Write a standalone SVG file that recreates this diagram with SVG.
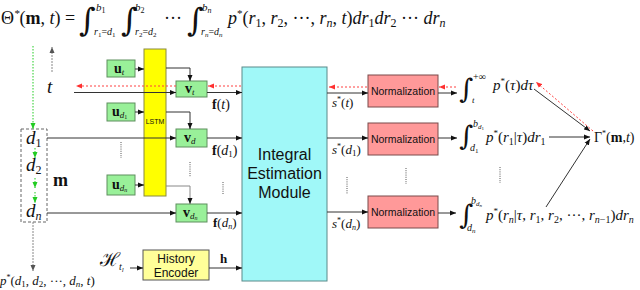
<svg xmlns="http://www.w3.org/2000/svg" width="640" height="290" viewBox="0 0 640 290">
<defs>
<marker id="ab" markerUnits="userSpaceOnUse" markerWidth="6" markerHeight="6" refX="6" refY="3" orient="auto"><path d="M0,0.5 L6,3 L0,5.5 z" fill="#111"/></marker>
<marker id="ar" markerUnits="userSpaceOnUse" markerWidth="6" markerHeight="6" refX="6" refY="3" orient="auto"><path d="M0,0.5 L6,3 L0,5.5 z" fill="#ff3030"/></marker>
<marker id="ag" markerUnits="userSpaceOnUse" markerWidth="6" markerHeight="6" refX="6" refY="3" orient="auto"><path d="M0,0.5 L6,3 L0,5.5 z" fill="#22cc22"/></marker>
<marker id="ay" markerUnits="userSpaceOnUse" markerWidth="6" markerHeight="6" refX="6" refY="3" orient="auto"><path d="M0,0.5 L6,3 L0,5.5 z" fill="#555"/></marker>
</defs>
<style>
.m{font-family:"Liberation Serif","DejaVu Serif",serif;font-style:italic;fill:#111}
.r{font-style:normal}
.b{font-weight:bold;font-style:normal}
.int{font-family:"DejaVu Serif","Liberation Serif",serif;font-style:normal;fill:#111}
.sans{font-family:"Liberation Sans",Arial,sans-serif;fill:#111}
.green{fill:#99f099;stroke:#5f8f5f;stroke-width:1}
.norm{fill:#ff9999;stroke:#7a4a4a;stroke-width:1}
.ln{stroke:#333;stroke-width:1;fill:none}
.lg{stroke:#888;stroke-width:1;fill:none}
.red{stroke:#ff4040;stroke-width:1;stroke-dasharray:2 2;fill:none}
.grn{stroke:#22cc22;stroke-width:1;stroke-dasharray:1.5 1.5;fill:none}
.dots{stroke:#555;stroke-width:1;stroke-dasharray:1 1.2;fill:none}
</style>

<!-- top formula -->
<g id="formula">
<text class="m" x="1" y="24" font-size="18"><tspan class="r">Θ</tspan><tspan font-size="11" dy="-7">*</tspan><tspan dy="7" class="r">(</tspan><tspan class="b">m</tspan><tspan class="r">, </tspan>t<tspan class="r">) =</tspan></text>
<text class="int" x="79" y="31" font-size="32">∫</text>
<text class="m" x="96" y="11" font-size="11">b<tspan font-size="8" class="r" dy="2">1</tspan></text>
<text class="m" x="94" y="35" font-size="10">r<tspan font-size="7" class="r" dy="2">1</tspan><tspan class="r" dy="-2">=</tspan>d<tspan font-size="7" class="r" dy="2">1</tspan></text>
<text class="int" x="121" y="31" font-size="32">∫</text>
<text class="m" x="135" y="11" font-size="11">b<tspan font-size="8" class="r" dy="2">2</tspan></text>
<text class="m" x="135" y="35" font-size="10">r<tspan font-size="7" class="r" dy="2">2</tspan><tspan class="r" dy="-2">=</tspan>d<tspan font-size="7" class="r" dy="2">2</tspan></text>
<text class="m r" x="164" y="24" font-size="18">···</text>
<text class="int" x="187" y="31" font-size="32">∫</text>
<text class="m" x="202" y="11" font-size="11">b<tspan font-size="8" dy="2">n</tspan></text>
<text class="m" x="201" y="35" font-size="10">r<tspan font-size="7" dy="2">n</tspan><tspan class="r" dy="-2">=</tspan>d<tspan font-size="7" dy="2">n</tspan></text>
<text class="m" x="228" y="24" font-size="18">p<tspan font-size="11" class="r" dy="-7">*</tspan><tspan class="r" dy="7">(</tspan>r<tspan font-size="12" class="r" dy="3">1</tspan><tspan class="r" dy="-3">, </tspan>r<tspan font-size="12" class="r" dy="3">2</tspan><tspan class="r" dy="-3">, ···, </tspan>r<tspan font-size="12" dy="3">n</tspan><tspan class="r" dy="-3">, </tspan>t<tspan class="r">)</tspan>dr<tspan font-size="12" class="r" dy="3">1</tspan><tspan dy="-3">dr</tspan><tspan font-size="12" class="r" dy="3">2</tspan><tspan class="r" dy="-3"> ··· </tspan>dr<tspan font-size="12" dy="3">n</tspan></text>
</g>

<!-- left labels -->
<g id="inputs">
<text class="m" x="47" y="93" font-size="19">t</text>
<rect x="21" y="129" width="26" height="93" fill="none" stroke="#666" stroke-dasharray="3 2"/>
<text class="m" x="26" y="144" font-size="19">d<tspan font-size="12" class="r" dy="3">1</tspan></text>
<text class="m" x="26" y="171" font-size="19">d<tspan font-size="12" class="r" dy="3">2</tspan></text>
<text class="m" x="26" y="217" font-size="19">d<tspan font-size="12" dy="3">n</tspan></text>
<text class="m b" x="53" y="186" font-size="18">m</text>
<text class="m" x="0" y="285" font-size="13">p<tspan font-size="8" class="r" dy="-5">*</tspan><tspan class="r" dy="5">(</tspan>d<tspan font-size="9" class="r" dy="2">1</tspan><tspan class="r" dy="-2">, </tspan>d<tspan font-size="9" class="r" dy="2">2</tspan><tspan class="r" dy="-2">, ···, </tspan>d<tspan font-size="9" dy="2">n</tspan><tspan class="r" dy="-2">, </tspan>t<tspan class="r">)</tspan></text>
<text class="int" x="100" y="266" font-size="19">ℋ</text>
<text class="m" x="119" y="270" font-size="10">t<tspan font-size="7" dy="2">l</tspan></text>
</g>

<!-- u boxes -->
<g id="u_t"><rect class="green" x="107" y="60" width="28" height="17"/><text class="m" x="114" y="73" font-size="14"><tspan class="b">u</tspan><tspan font-size="9" dy="2">t</tspan></text></g>
<g id="u_d1"><rect class="green" x="107" y="103" width="28" height="18"/><text class="m" x="112" y="116" font-size="14"><tspan class="b">u</tspan><tspan font-size="9" dy="2">d</tspan><tspan font-size="6" class="r" dy="1">1</tspan></text></g>
<g id="u_dn"><rect class="green" x="107" y="175" width="28" height="20"/><text class="m" x="112" y="189" font-size="14"><tspan class="b">u</tspan><tspan font-size="9" dy="2">d</tspan><tspan font-size="6" dy="1">n</tspan></text></g>

<!-- LSTM -->
<g id="lstm"><rect x="144" y="49" width="22" height="147" fill="#ffff00" stroke="#8a8a40" stroke-width="1"/><text class="sans" x="155" y="124" font-size="7" text-anchor="middle" fill="#333">LSTM</text></g>

<!-- v boxes -->
<g id="v_t"><rect class="green" x="176" y="81" width="31" height="16"/><text class="m" x="185" y="93" font-size="14"><tspan class="b">v</tspan><tspan font-size="9" dy="2">t</tspan></text></g>
<g id="v_d"><rect class="green" x="176" y="129" width="31" height="18"/><text class="m" x="184" y="142" font-size="14"><tspan class="b">v</tspan><tspan font-size="9" dy="2">d</tspan></text></g>
<g id="v_dn"><rect class="green" x="176" y="204" width="31" height="18"/><text class="m" x="183" y="217" font-size="14"><tspan class="b">v</tspan><tspan font-size="9" dy="2">d</tspan><tspan font-size="6" dy="1">n</tspan></text></g>

<!-- history encoder -->
<g id="history"><rect x="143" y="250" width="66" height="30" fill="#ffff99" stroke="#555" stroke-width="1"/><text class="sans" x="176" y="263" font-size="12" text-anchor="middle">History</text><text class="sans" x="176" y="277" font-size="12" text-anchor="middle">Encoder</text></g>

<!-- integral module -->
<g id="module"><rect x="242" y="67" width="85" height="214" fill="#a0f8f8" stroke="#5a8a8a" stroke-width="1"/><text class="sans" x="284.5" y="160" font-size="16" text-anchor="middle">Integral</text><text class="sans" x="284.5" y="179" font-size="16" text-anchor="middle">Estimation</text><text class="sans" x="284.5" y="198" font-size="16" text-anchor="middle">Module</text></g>

<!-- normalization -->
<g id="norm_t"><rect class="norm" x="368" y="75" width="70" height="32"/><text class="sans" x="403" y="95" font-size="10.5" text-anchor="middle">Normalization</text></g>
<g id="norm_d1"><rect class="norm" x="368" y="123" width="70" height="32"/><text class="sans" x="403" y="143" font-size="10.5" text-anchor="middle">Normalization</text></g>
<g id="norm_dn"><rect class="norm" x="368" y="196" width="70" height="32"/><text class="sans" x="403" y="216" font-size="10.5" text-anchor="middle">Normalization</text></g>

<!-- labels on links -->
<g id="labels">
<text class="m" x="212" y="109" font-size="14"><tspan class="b">f</tspan><tspan class="r">(</tspan>t<tspan class="r">)</tspan></text>
<text class="m" x="212" y="155" font-size="14"><tspan class="b">f</tspan><tspan class="r">(</tspan>d<tspan font-size="9" class="r" dy="2">1</tspan><tspan class="r" dy="-2">)</tspan></text>
<text class="m" x="213" y="227" font-size="13"><tspan class="b">f</tspan><tspan class="r">(</tspan>d<tspan font-size="8" dy="2">n</tspan><tspan class="r" dy="-2">)</tspan></text>
<text class="m b" x="220" y="263" font-size="13">h</text>
<text class="m" x="332" y="107" font-size="13">s<tspan font-size="8" class="r" dy="-5">*</tspan><tspan class="r" dy="5">(</tspan>t<tspan class="r">)</tspan></text>
<text class="m" x="332" y="154" font-size="13">s<tspan font-size="8" class="r" dy="-5">*</tspan><tspan class="r" dy="5">(</tspan>d<tspan font-size="9" class="r" dy="2">1</tspan><tspan class="r" dy="-2">)</tspan></text>
<text class="m" x="332" y="228" font-size="13">s<tspan font-size="8" class="r" dy="-5">*</tspan><tspan class="r" dy="5">(</tspan>d<tspan font-size="8" dy="2">n</tspan><tspan class="r" dy="-2">)</tspan></text>
</g>

<!-- right integrals -->
<g id="out_t">
<text class="int" x="459" y="98" font-size="27">∫</text>
<text class="m" x="473" y="80" font-size="10"><tspan class="r">+∞</tspan></text>
<text class="m" x="472" y="103" font-size="9">t</text>
<text class="m" x="493" y="90" font-size="15">p<tspan font-size="9" class="r" dy="-6">*</tspan><tspan class="r" dy="6">(</tspan>τ<tspan class="r">)</tspan>dτ</text>
</g>
<g id="out_d1">
<text class="int" x="459" y="145" font-size="27">∫</text>
<text class="m" x="473" y="127" font-size="10">b<tspan font-size="7" dy="2">d</tspan><tspan font-size="5" class="r" dy="1">1</tspan></text>
<text class="m" x="470" y="151" font-size="10">d<tspan font-size="7" class="r" dy="2">1</tspan></text>
<text class="m" x="486" y="142" font-size="15">p<tspan font-size="9" class="r" dy="-6">*</tspan><tspan class="r" dy="6">(</tspan>r<tspan font-size="10" class="r" dy="3">1</tspan><tspan class="r" dy="-3">|</tspan>τ<tspan class="r">)</tspan>dr<tspan font-size="10" class="r" dy="3">1</tspan></text>
</g>
<g id="out_dn">
<text class="int" x="459" y="224" font-size="27">∫</text>
<text class="m" x="471" y="204" font-size="10">b<tspan font-size="7" dy="2">d</tspan><tspan font-size="5" dy="1">n</tspan></text>
<text class="m" x="467" y="231" font-size="10">d<tspan font-size="7" dy="2">n</tspan></text>
<text class="m" x="486" y="220" font-size="15">p<tspan font-size="9" class="r" dy="-6">*</tspan><tspan class="r" dy="6">(</tspan>r<tspan font-size="10" dy="3">n</tspan><tspan class="r" dy="-3">|</tspan>τ<tspan class="r">, </tspan>r<tspan font-size="10" class="r" dy="3">1</tspan><tspan class="r" dy="-3">, </tspan>r<tspan font-size="10" class="r" dy="3">2</tspan><tspan class="r" dy="-3">, ···, </tspan>r<tspan font-size="10" dy="3">n<tspan class="r">−1</tspan></tspan><tspan class="r" dy="-3">)</tspan>dr<tspan font-size="10" dy="3">n</tspan></text>
</g>
<g id="gamma">
<text class="m" x="594" y="142" font-size="14"><tspan class="r">Γ</tspan><tspan font-size="8" class="r" dy="-6">*</tspan><tspan class="r" dy="6">(</tspan><tspan class="b">m</tspan><tspan class="r">,</tspan>t<tspan class="r">)</tspan></text>
</g>

<!-- connectors -->
<g id="connectors">
<line class="grn" x1="33" y1="46" x2="33" y2="129" marker-end="url(#ag)"/>
<line class="grn" x1="35" y1="148" x2="35" y2="158" marker-end="url(#ag)"/>
<line class="grn" x1="35" y1="178" x2="35" y2="188" marker-end="url(#ag)"/>
<line class="grn" x1="35" y1="192" x2="35" y2="203" marker-end="url(#ag)"/>
<line class="lg" x1="52" y1="72" x2="52" y2="47" marker-end="url(#ay)" stroke-dasharray="2 1"/>
<line class="lg" x1="33" y1="222" x2="33" y2="271" marker-end="url(#ay)" stroke-dasharray="2 1"/>
<line class="ln" x1="135" y1="69" x2="144" y2="69" marker-end="url(#ab)"/>
<line class="ln" x1="135" y1="112" x2="144" y2="112" marker-end="url(#ab)"/>
<line class="ln" x1="135" y1="185" x2="144" y2="185" marker-end="url(#ab)"/>
<polyline class="ln" points="166,68 190,68 190,81" marker-end="url(#ab)"/>
<polyline class="ln" points="166,112 190,112 190,129" marker-end="url(#ab)"/>
<polyline class="lg" points="166,186 190,186 190,204" marker-end="url(#ab)" stroke="#aaa"/>
<line class="ln" x1="74" y1="92.5" x2="176" y2="92.5" marker-end="url(#ab)"/>
<line class="ln" x1="47" y1="138" x2="176" y2="138" marker-end="url(#ab)"/>
<line class="ln" x1="47" y1="213" x2="176" y2="213" marker-end="url(#ab)"/>
<line class="ln" x1="207" y1="92.5" x2="242" y2="92.5" marker-end="url(#ab)"/>
<line class="ln" x1="207" y1="138" x2="242" y2="138" marker-end="url(#ab)"/>
<line class="ln" x1="207" y1="213" x2="242" y2="213" marker-end="url(#ab)"/>
<line class="ln" x1="130" y1="268" x2="143" y2="268" marker-end="url(#ab)"/>
<line class="ln" x1="209" y1="268" x2="242" y2="268" marker-end="url(#ab)"/>
<line class="ln" x1="327" y1="93" x2="368" y2="93" marker-end="url(#ab)"/>
<line class="ln" x1="327" y1="138" x2="368" y2="138" marker-end="url(#ab)"/>
<line class="ln" x1="327" y1="212" x2="368" y2="212" marker-end="url(#ab)"/>
<line class="ln" x1="438" y1="93" x2="457" y2="93" marker-end="url(#ab)"/>
<line class="ln" x1="438" y1="138" x2="457" y2="138" marker-end="url(#ab)"/>
<line class="ln" x1="438" y1="213" x2="456" y2="213" marker-end="url(#ab)"/>
<line class="ln" x1="534" y1="89" x2="590" y2="131" marker-end="url(#ab)"/>
<line class="ln" x1="549" y1="137" x2="590" y2="137" marker-end="url(#ab)"/>
<line class="ln" x1="546" y1="207" x2="590" y2="139" marker-end="url(#ab)"/>
<line class="red" x1="593" y1="131" x2="536" y2="82" marker-end="url(#ar)"/>
<line class="red" x1="456" y1="87" x2="439" y2="87" marker-end="url(#ar)"/>
<line class="red" x1="367" y1="87" x2="329" y2="87" marker-end="url(#ar)"/>
<line class="red" x1="241" y1="86" x2="208" y2="86" marker-end="url(#ar)"/>
<line class="red" x1="176" y1="86" x2="76" y2="86" marker-end="url(#ar)"/>
<line class="dots" x1="121" y1="142" x2="121" y2="158"/>
<line class="dots" x1="190" y1="162" x2="190" y2="177"/>
<line class="dots" x1="223" y1="182" x2="223" y2="195"/>
<line class="dots" x1="347" y1="177" x2="347" y2="194"/>
<line class="dots" x1="406" y1="168" x2="406" y2="184"/>
<line class="dots" x1="500" y1="167" x2="500" y2="183"/>
</g>
</svg>
